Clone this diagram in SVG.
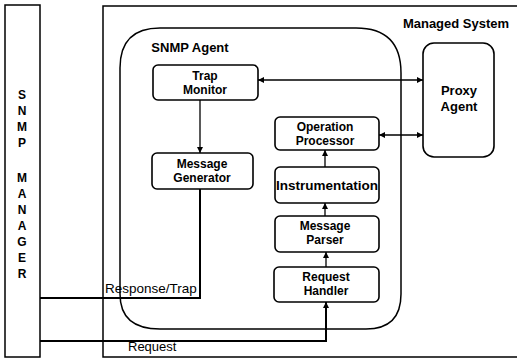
<svg xmlns="http://www.w3.org/2000/svg" width="517" height="362" viewBox="0 0 517 362">
<style>
.frame{fill:none;stroke:#000;stroke-width:1.5}
.box{fill:#fff;stroke:#000;stroke-width:1.6}
.lbl{font-family:"Liberation Sans",Arial,sans-serif;font-weight:bold;font-size:13px;fill:#000;text-anchor:middle}
.two{font-size:12px}
.plain{font-family:"Liberation Sans",Arial,sans-serif;font-size:13px;fill:#000}
.conn{fill:none;stroke:#000;stroke-width:1.3}
.thick{fill:none;stroke:#000;stroke-width:2}
</style>
<defs>
<marker id="ah" viewBox="0 0 10 10" refX="10" refY="5" markerWidth="6" markerHeight="6" markerUnits="userSpaceOnUse" orient="auto-start-reverse">
<path d="M0,0 L10,5 L0,10 z" fill="#000"/>
</marker>
</defs>
<rect width="517" height="362" fill="#fff"/>

<g id="managed-system">
<path class="frame" d="M520,6 H103 V357 H520"/>
<text class="lbl" x="456" y="28">Managed System</text>
</g>

<g id="snmp-manager">
<rect class="frame" x="5" y="5" width="35" height="352"/>
<g class="lbl" style="font-size:12px">
<text x="22" y="99">S</text>
<text x="22" y="115">N</text>
<text x="22" y="131">M</text>
<text x="22" y="147">P</text>
<text x="22" y="182">M</text>
<text x="22" y="198">A</text>
<text x="22" y="214">N</text>
<text x="22" y="230">A</text>
<text x="22" y="246">G</text>
<text x="22" y="262">E</text>
<text x="22" y="278">R</text>
</g>
</g>

<g id="snmp-agent">
<path class="frame" d="M160,28 H356 Q401,28 401,73 V294 Q401,329 366,329 H160 Q120,329 120,294 V68 Q120,28 160,28 Z"/>
<text class="lbl" x="190" y="52">SNMP Agent</text>
</g>

<g id="trap-monitor">
<rect class="box" x="153" y="65" width="105" height="35" rx="5"/>
<text class="lbl two" x="205" y="80">Trap</text>
<text class="lbl two" x="205" y="94">Monitor</text>
</g>

<g id="message-generator">
<rect class="box" x="152" y="153" width="101" height="36" rx="5"/>
<text class="lbl two" x="202" y="168">Message</text>
<text class="lbl two" x="202" y="182">Generator</text>
</g>

<g id="proxy-agent">
<rect class="box" x="423" y="43" width="71" height="114" rx="11"/>
<text class="lbl" x="459" y="95">Proxy</text>
<text class="lbl" x="459" y="111">Agent</text>
</g>

<g id="operation-processor">
<rect class="box" x="275" y="117" width="104" height="33" rx="5"/>
<text class="lbl two" x="325" y="131">Operation</text>
<text class="lbl two" x="325" y="145">Processor</text>
</g>

<g id="instrumentation">
<rect class="box" x="275" y="167" width="104" height="36" rx="5"/>
<text class="lbl" x="327" y="190" textLength="102" lengthAdjust="spacingAndGlyphs">Instrumentation</text>
</g>

<g id="message-parser">
<rect class="box" x="275" y="216" width="104" height="36" rx="5"/>
<text class="lbl two" x="325" y="230">Message</text>
<text class="lbl two" x="325" y="244">Parser</text>
</g>

<g id="request-handler">
<rect class="box" x="274" y="267" width="105" height="35" rx="5"/>
<text class="lbl two" x="326" y="281">Request</text>
<text class="lbl two" x="326" y="295">Handler</text>
</g>

<g id="connectors">
<line class="conn" x1="258" y1="80" x2="423" y2="80" marker-start="url(#ah)" marker-end="url(#ah)"/>
<line class="conn" x1="200" y1="100" x2="200" y2="153" marker-end="url(#ah)"/>
<line class="conn" x1="379" y1="135" x2="423" y2="135" marker-start="url(#ah)" marker-end="url(#ah)"/>
<line class="conn" x1="325" y1="167" x2="325" y2="150" marker-end="url(#ah)"/>
<line class="conn" x1="325" y1="216" x2="325" y2="203" marker-end="url(#ah)"/>
<line class="conn" x1="326" y1="267" x2="326" y2="252" marker-end="url(#ah)"/>
<path class="thick" d="M200,189 V298 H40"/>
<path class="thick" d="M40,341 H326 V302" marker-end="url(#ah)"/>
<text class="plain" x="105" y="293" style="font-size:13.5px">Response/Trap</text>
<text class="plain" x="128" y="351">Request</text>
</g>
</svg>
